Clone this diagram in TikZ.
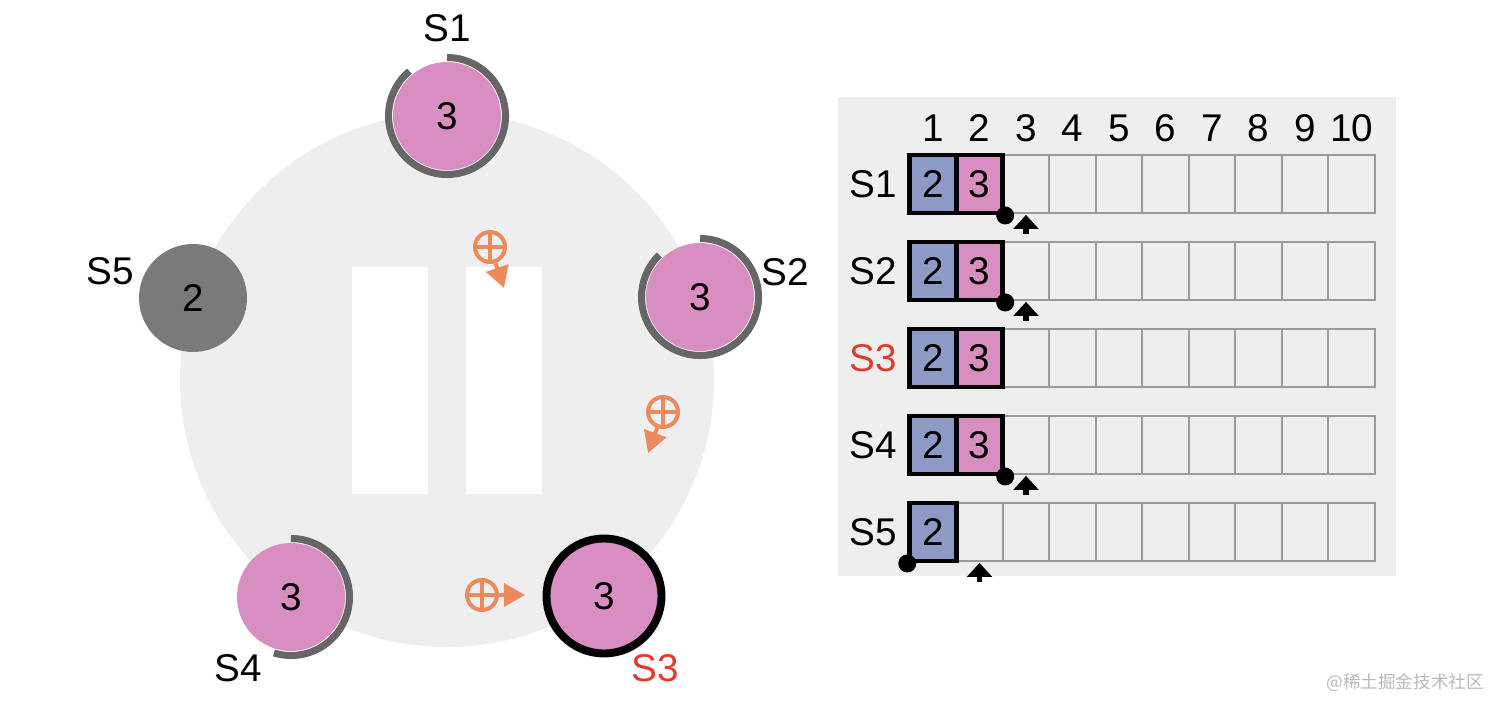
\documentclass[tikz,border=0pt]{standalone}
\usepackage{fontspec}
\setmainfont{Liberation Sans}
\newfontfamily\cjkfont{Noto Sans CJK SC}
\usetikzlibrary{arrows.meta, positioning}
\definecolor{mPink}{HTML}{D98EC2}
\definecolor{mBlue}{HTML}{8D9AC6}
\definecolor{mRing}{HTML}{666666}
\definecolor{mDark}{HTML}{7A7A7A}
\definecolor{mBack}{HTML}{EEEEEE}
\definecolor{mOrange}{HTML}{EC8A5C}
\definecolor{mRed}{HTML}{E23B2E}
\definecolor{mCell}{HTML}{9A9A9A}

\begin{document}
\begin{tikzpicture}[x=0.02cm, y=0.02cm,
      big/.style={font=\fontsize{22}{26}\selectfont},
      srv/.style={circle, fill=mPink, minimum size=2.16cm, inner sep=0pt, big},
      ring/.style={mRing, line width=4pt},
      oplus/.style={circle, draw=mOrange, line width=2.3pt, minimum size=6mm, inner sep=0pt,
        path picture={\draw[mOrange, line width=2.3pt]
          (path picture bounding box.north) -- (path picture bounding box.south)
          (path picture bounding box.west) -- (path picture bounding box.east);}},
      push/.style={mOrange, line width=2.3pt, -{Triangle[length=12pt, width=13pt]}},
      cellbox/.style={draw=mCell, line width=1pt, minimum width=0.93cm, minimum height=1.16cm, inner sep=0pt},
      entry/.style={draw=black, line width=2.8pt, minimum width=0.93cm, minimum height=1.16cm, inner sep=0pt, big},
      dot/.style={circle, fill=black, inner sep=0pt, minimum size=0.36cm},
      nextup/.style={line width=3pt, -{Triangle[length=8pt, width=14pt]}}]
    \useasboundingbox (0,0) rectangle (1512,-713);

    % cluster
    \fill[mBack] (447,-380) circle[radius=267];
    \fill[white] (352,-267) rectangle (428,-494);
    \fill[white] (466,-267) rectangle (542,-494);

    \node[srv] (s1) at (447,-116) {3};
    \node[srv] (s2) at (700,-297) {3};
    \node[srv, draw=black, line width=4.5pt, minimum size=2.3cm] (s3) at (604,-596) {3};
    \node[srv] (s4) at (291,-597) {3};
    \node[srv, fill=mDark] (s5) at (193,-298) {2};

    \draw[ring] ([shift={(90:58.5)}]s1.center) arc[start angle=90, end angle=-230, radius=58.5];
    \draw[ring] ([shift={(90:58.5)}]s2.center) arc[start angle=90, end angle=-226, radius=58.5];
    \draw[ring] ([shift={(90:58.5)}]s4.center) arc[start angle=90, end angle=-107, radius=58.5];

    \node[big] (l1) at (447,-28) {S1};
    \node[big] (l2) at (785,-272) {S2};
    \node[big, text=mRed] (l3) at (655,-668) {S3};
    \node[big] (l4) at (238,-668) {S4};
    \node[big] (l5) at (110,-271) {S5};

    % requests
    \node[oplus] (p1) at (490,-247) {};
    \node[oplus] (p2) at (663,-412) {};
    \node[oplus] (p3) at (482,-595) {};
    \coordinate (p1e) at (504,-288);
    \coordinate (p2e) at (648,-453);
    \coordinate (p3e) at (525,-595);
    \draw[push] (p1) -- (p1e);
    \draw[push] (p2) -- (p2e);
    \draw[push] (p3) -- (p3e);

    % logs
    \fill[mBack] (838,-97) rectangle (1396,-576);
    \foreach \j in {1,...,10}
      \node[big] (h\j) at (886.5+46.5*\j,-128) {\j};
    \foreach \r in {0,...,4}
      \foreach \j in {1,...,10}
        \node[cellbox] (c\r-\j) at (886.5+46.5*\j,-184-87*\r) {};
    \foreach \nm/\col [count=\r from 0] in {S1/black, S2/black, S3/mRed, S4/black, S5/black}
      \node[big, text=\col] (n\r) at (873,-184-87*\r) {\nm};

    \foreach \r in {0,...,3} {
      \node[entry, fill=mBlue] (e\r-1) at (c\r-1) {2};
      \node[entry, fill=mPink] (e\r-2) at (c\r-2) {3};
    }
    \node[entry, fill=mBlue] (e4-1) at (c4-1) {2};

    \foreach \r in {0,1,3} {
      \node[dot] (d\r) at (e\r-2.south east) {};
      \draw[nextup] ([yshift=-0.4cm]c\r-3.south) -- ([yshift=-0.02cm]c\r-3.south);
    }
    \node[dot] (d4) at (e4-1.south west) {};
    \draw[nextup] ([yshift=-0.4cm]c4-2.south) -- ([yshift=-0.02cm]c4-2.south);

    \node[text=black!28, font=\cjkfont\fontsize{10}{12}\selectfont, anchor=east] (wm) at (1490,-683) {@稀土掘金技术社区};
  \end{tikzpicture}
\end{document}
